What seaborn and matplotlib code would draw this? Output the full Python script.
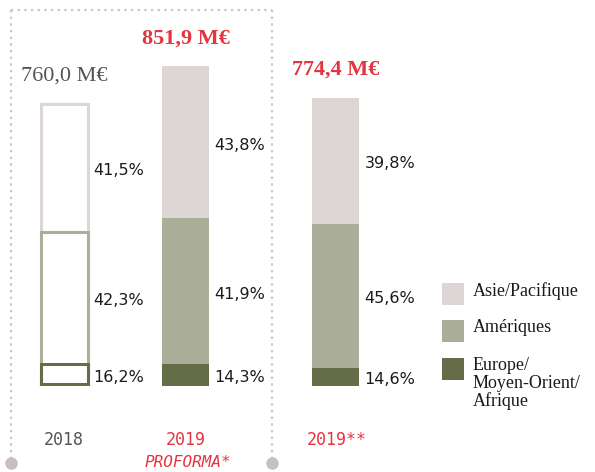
import matplotlib
matplotlib.use("Agg")
import matplotlib.pyplot as plt
from matplotlib.patches import Rectangle
from matplotlib.lines import Line2D
import numpy as np
import seaborn as sns

# donnees
years = ["2018", "2019", "2019**"]
totals = [760.0, 851.9, 774.4]
total_labels = ["760,0 M€", "851,9 M€", "774,4 M€"]
asie = [41.5, 43.8, 39.8]
ameriques = [42.3, 41.9, 45.6]
europe = [16.2, 14.3, 14.6]
legend_labels = ["Asie/Pacifique", "Amériques", "Europe/\nMoyen-Orient/\nAfrique"]

# couleurs
c_asie = "#ded6d5"
c_amer = "#abae98"
c_eur = "#656c48"
rouge = "#e4343f"
gris = "#555555"

# mise en page (pixels)
W, H = 595, 472
bar_x = [64, 185.5, 335.5]
y_floor = 68
px_per_unit = 0.408

sns.set_style("white")
plt.rcParams["font.family"] = ["DejaVu Sans"]

fig = plt.figure(figsize=(W / 100, H / 100), dpi=100)
ax = fig.add_axes([0, 86 / H, 1, 386 / H])

tot = np.array(totals)
eur_top = tot * np.array(europe) / 100
amer_top = eur_top + tot * np.array(ameriques) / 100

layers = [(tot, c_asie), (amer_top, c_amer), (eur_top, c_eur)]
for vals, col in layers:
    n0 = len(ax.patches)
    sns.barplot(x=bar_x, y=vals, native_scale=True, width=47 / 121.5, color=col,
                saturation=1, errorbar=None, linewidth=0, ax=ax)
    new = ax.patches[n0:]
    # 2018 : barres en contour seulement
    new[0].set_facecolor("white")
    new[0].set_edgecolor(col)
    new[0].set_linewidth(2.2)

ax.set_xlim(0, W)
ax.set_ylim(y_floor, y_floor + 386 / px_per_unit)
ax.axis("off")

# bas du contour 2018
p0 = ax.patches[0]
lw_px = 2.2 * 100 / 72
ax.plot([p0.get_x(), p0.get_x() + p0.get_width()],
        [y_floor + lw_px / 2 / px_per_unit] * 2,
        color=c_eur, lw=2.2, solid_capstyle="projecting")

pct_font = "DejaVu Sans"
for i in range(3):
    p = ax.patches[i]
    xr = p.get_x() + p.get_width()
    centres = [(amer_top[i] + tot[i]) / 2, (eur_top[i] + amer_top[i]) / 2,
               (y_floor + eur_top[i]) / 2]
    vals = [asie[i], ameriques[i], europe[i]]
    for yc, v in zip(centres, vals):
        ax.annotate(f"{v:.1f}%".replace(".", ","), (xr, yc), xytext=(4, -2),
                    textcoords="offset points", ha="left", va="center",
                    fontsize=11.5, color="#1a1a1a", family=pct_font)
    # totaux
    ax.annotate(total_labels[i], (bar_x[i], tot[i]), xytext=(0, 20),
                textcoords="offset points", ha="center", va="center",
                fontsize=16, family="Liberation Serif",
                color=gris if i == 0 else rouge,
                fontweight="normal" if i == 0 else "bold")
    # annees
    ax.annotate(years[i], (bar_x[i], y_floor), xytext=(1 if i == 2 else 0, -39),
                textcoords="offset points", ha="center", va="center",
                fontsize=12, family="DejaVu Sans Mono",
                color=gris if i == 0 else rouge)

ax.annotate("PROFORMA*", (bar_x[1], y_floor), xytext=(2, -55),
            textcoords="offset points", ha="center", va="center",
            fontsize=11.5, family="DejaVu Sans Mono", style="italic", color=rouge)


def fx(px):
    return px / W


def fy(py):
    return 1 - py / H


# cadre pointille
box_col = "#cdc4c3"
for xs, ys in [([11, 11], [10, 463]), ([272, 272], [10, 463]), ([11, 272], [10, 10])]:
    fig.add_artist(Line2D([fx(v) for v in xs], [fy(v) for v in ys],
                          transform=fig.transFigure, color=box_col, lw=1.6,
                          linestyle=(0, (1, 2))))
for xc in [11, 272]:
    fig.add_artist(Line2D([fx(xc)], [fy(463)], transform=fig.transFigure,
                          marker="o", markersize=8, color="#c9bfbc", lw=0))

# legende
for lab, col, top in zip(legend_labels, [c_asie, c_amer, c_eur], [283, 320, 358]):
    fig.add_artist(Rectangle((fx(442), fy(top + 22)), 22 / W, 22 / H,
                             transform=fig.transFigure, facecolor=col, lw=0))
    fig.text(fx(473), fy(top - 1), lab, ha="left", va="top", fontsize=13,
             family="Liberation Serif", color="#1a1a1a", linespacing=1.05)

fig.savefig("out.png", dpi=100)
